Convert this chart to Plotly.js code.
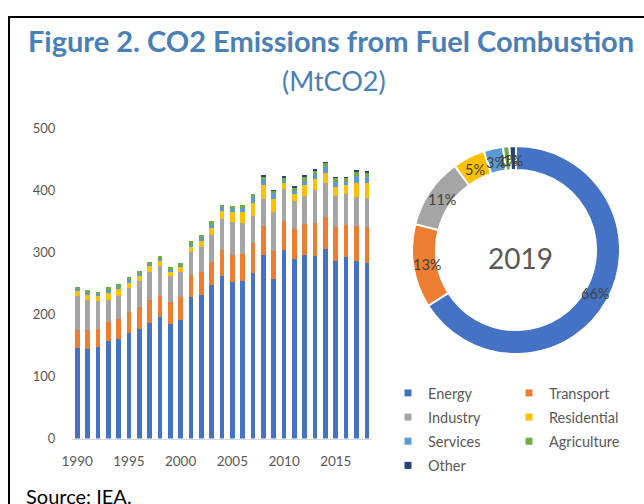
<!DOCTYPE html>
<html>
<head>
<meta charset="utf-8">
<script src="https://cdn.plot.ly/plotly-3.0.1.min.js"></script>
<style>
  html, body { margin: 0; padding: 0; background: #fff; }
  #wrap { position: relative; width: 644px; height: 504px; overflow: hidden; }
  #chart { position: absolute; left: 0; top: 0; width: 644px; height: 504px; }
  #frame { position: absolute; left: 8px; top: 16px; width: 700px; height: 600px;
           border-left: 2px solid #000; border-top: 2px solid #000; pointer-events: none; }
</style>
</head>
<body>
<div id="wrap"><div id="chart"></div><div id="frame"></div></div>
<script>
// ---- data ----
const years = [1990,1991,1992,1993,1994,1995,1996,1997,1998,1999,2000,2001,2002,2003,2004,
               2005,2006,2007,2008,2009,2010,2011,2012,2013,2014,2015,2016,2017,2018];
const energy      = [145.5,144.5,147,157,161,169.7,177,186.8,195,184.7,191.6,227.7,231,246.5,262,
                     252,253.5,266.4,294.8,256.7,303,288.4,295.5,293.3,305.2,285.8,292.2,285.8,282.5];
const transport   = [29.5,30.5,30,31,31.7,34.8,35,35.5,34.8,35.5,36.1,36,36.4,38.5,41.5,
                     43.5,43.5,48.9,46.8,45.7,47.3,49,49.3,54.3,51.5,54.2,51.6,56.4,57.5];
const industry    = [55,48.4,43.7,35.4,37.1,37.1,41.5,46.2,47.2,40.8,40.8,37.1,40.9,42.6,49.5,
                     53.2,50,42.5,44.2,61.8,51.6,44.6,45.8,52.1,54.3,50,49.4,46.2,46.8];
const residential = [8,8.1,8,10.6,10.2,9.2,8.5,8.5,9.3,7.5,7.5,8.1,10.2,11.9,14,
                     15.3,17,21.5,23.1,21.6,10.1,11.2,17.1,17.7,17.2,15.6,14.5,23.6,24.2];
const services    = [2.6,2.1,3.7,4.4,3.8,3.7,3,3,3.2,2.5,2,3.1,3.8,4.9,5.6,
                     5.6,7.6,10.2,9.1,9.1,3.3,5.4,7.6,8.1,9.2,7.4,6,10.3,10.2];
const agriculture = [4,5.4,3.2,5.4,4.9,5.3,5,5,4.3,5,3.9,6,5.3,5.3,4,
                     4.4,4.4,3.8,3,3.8,4.3,5.4,5.4,5.9,6.4,6,5.3,7,6];
const other       = [0,0,0,0,0,0,0,0,0,0,0,0,0,0,0,
                     0,0,0,3,2.1,2.7,2.7,3.7,3.3,2.2,2.8,2.8,2.7,2.8];

const sectors = ['Energy','Transport','Industry','Residential','Services','Agriculture','Other'];
const share2019 = [66,13,11,5,3,1,1];
const xTickVals = [1990,1995,2000,2005,2010,2015];
const yTickVals = [0,100,200,300,400,500];
const colors = ['#4472C4','#ED7D31','#A5A5A5','#FFC000','#5B9BD5','#70AD47','#264478'];

const series = [energy, transport, industry, residential, services, agriculture, other];
const FONT = 'Lato, "Open Sans", sans-serif';
const GREY = '#595959';

// pie placement (pixels)
const PIE_L = 412, PIE_R = 620, PIE_T = 146, PIE_B = 354, HOLE = 0.77;
const W = 644, H = 504;

const traces = [];
series.forEach((vals, i) => {
  traces.push({
    type: 'bar', x: years, y: vals, name: sectors[i],
    marker: { color: colors[i], line: { width: 0 } },
    showlegend: false, hoverinfo: 'x+y+name'
  });
});

traces.push({
  type: 'pie', labels: sectors, values: share2019, sort: false,
  direction: 'clockwise', rotation: 0, hole: HOLE,
  marker: { colors: colors, line: { color: '#ffffff', width: 2 } },
  textinfo: 'none',
  domain: { x: [PIE_L/W, PIE_R/W], y: [(H-PIE_B)/H, (H-PIE_T)/H] },
  showlegend: false
});

// legend entries (two columns)
const col1 = [0, 2, 4, 6], col2 = [1, 3, 5];
col1.forEach(i => traces.push({
  type: 'scatter', mode: 'markers', x: [null], y: [null], name: sectors[i],
  marker: { symbol: 'square', size: 7, color: colors[i] },
  legend: 'legend', legendgroup: 'g' + i, hoverinfo: 'skip'
}));
col2.forEach(i => traces.push({
  type: 'scatter', mode: 'markers', x: [null], y: [null], name: sectors[i],
  marker: { symbol: 'square', size: 7, color: colors[i] },
  legend: 'legend2', legendgroup: 'g' + i, hoverinfo: 'skip'
}));

// percentage labels on the ring, placed at each slice's mid-angle
const total = share2019.reduce((a, b) => a + b, 0);
const cx = (PIE_L + PIE_R) / 2, cy = (PIE_T + PIE_B) / 2;
const rOut = (PIE_R - PIE_L) / 2, rMid = rOut * (1 + HOLE) / 2 - 2;
const pctAnnots = [];
let cum = 0;
share2019.forEach((v) => {
  const mid = (cum + v / 2) / total * 2 * Math.PI;
  cum += v;
  const px = cx + rMid * Math.sin(mid), py = cy - rMid * Math.cos(mid);
  pctAnnots.push({
    text: Math.round(v / total * 100) + '%', xref: 'paper', yref: 'paper',
    x: px / W, y: 1 - py / H, xanchor: 'center', yanchor: 'middle', showarrow: false,
    font: { family: FONT, size: 14.5, color: '#404040' }
  });
});

const legendCommon = {
  orientation: 'v', traceorder: 'grouped', bgcolor: 'rgba(0,0,0,0)',
  font: { family: FONT, size: 14.5, color: GREY }, tracegroupgap: 2.3,
  xanchor: 'left', yanchor: 'top', itemclick: false
};

const layout = {
  width: W, height: H,
  margin: { l: 0, r: 0, t: 0, b: 0 },
  paper_bgcolor: '#ffffff', plot_bgcolor: '#ffffff',
  barmode: 'stack', bargap: 0.55,
  showlegend: true,
  title: {
    text: '<b>Figure 2. CO2 Emissions from Fuel Combustion</b>',
    font: { family: FONT, size: 29, color: '#4A80B5' },
    x: 331/W, xanchor: 'center', xref: 'paper',
    y: 1 - 42/H, yanchor: 'middle', yref: 'container'
  },
  xaxis: {
    domain: [72/W, 372/W], range: [1989.5, 2018.5],
    tickmode: 'array', tickvals: xTickVals, ticktext: xTickVals.map(String),
    showgrid: false, zeroline: false, showline: true, linecolor: '#D9D9D9', linewidth: 1,
    ticks: 'outside', ticklen: 10, tickcolor: 'rgba(0,0,0,0)',
    tickfont: { family: FONT, size: 13.5, color: GREY }, fixedrange: true
  },
  yaxis: {
    domain: [(H-438.5)/H, (H-128)/H], range: [0, 500],
    tickmode: 'array', tickvals: yTickVals, ticktext: yTickVals.map(String),
    showgrid: false, zeroline: false, showline: false,
    ticks: 'outside', ticklen: 13, tickcolor: 'rgba(0,0,0,0)',
    tickfont: { family: FONT, size: 13, color: GREY }, fixedrange: true
  },
  legend: Object.assign({}, legendCommon, { x: (428-40)/W, y: 1 - 377/H }),
  legend2: Object.assign({}, legendCommon, { x: (549-40)/W, y: 1 - 377/H }),
  annotations: [
    { text: '(MtCO2)', xref: 'paper', yref: 'paper', x: 334/W, y: 1 - 80/H,
      xanchor: 'center', yanchor: 'middle', showarrow: false,
      font: { family: FONT, size: 27, color: '#4A80B5' } },
    { text: '2019', xref: 'paper', yref: 'paper', x: 520/W, y: 1 - 258/H,
      xanchor: 'center', yanchor: 'middle', showarrow: false,
      font: { family: FONT, size: 28, color: GREY } },
    { text: 'Source: IEA.', xref: 'paper', yref: 'paper', x: 24/W, y: 1 - 482/H,
      xanchor: 'left', yanchor: 'top', showarrow: false,
      font: { family: FONT, size: 20, color: '#000000' } }
  ].concat(pctAnnots)
};

Plotly.newPlot('chart', traces, layout, { displayModeBar: false, staticPlot: true });
</script>
</body>
</html>
